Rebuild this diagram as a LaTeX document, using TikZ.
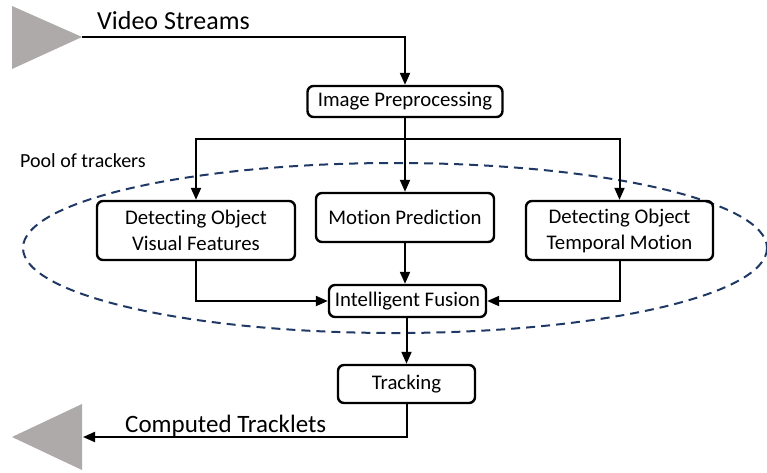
\documentclass[tikz,border=0pt]{standalone}
\usepackage{fontspec}
\setmainfont{Carlito}[Ligatures=NoCommon]
\usetikzlibrary{arrows.meta}
\definecolor{tipgray}{RGB}{174,170,170}
\definecolor{poolblue}{RGB}{31,56,100}
\begin{document}
\begin{tikzpicture}[x=1pt,y=-1pt,
  box/.style={draw,line width=2.4pt,rounded corners=6pt,inner sep=0pt,
    align=center,font=\fontsize{20.8}{26}\selectfont},
  arr/.style={line width=2pt,-{Triangle[length=12pt,width=10pt]}},
  link/.style={line width=2pt},
  lbl/.style={inner sep=0pt,anchor=base west}]
\useasboundingbox (0,0) rectangle (767,472);

% pool of trackers
\draw[poolblue,line width=2pt,dash pattern=on 9pt off 6pt]
  (395,248) ellipse [x radius=372,y radius=85];
\node[lbl,font=\fontsize{20}{24}\selectfont] (pool) at (20,167) {Pool of trackers};

% input and output markers
\fill[tipgray] (12,6) -- (82,37) -- (12,69) -- cycle;
\coordinate (vin) at (82,37);
\fill[tipgray] (82,404) -- (12,437) -- (82,470) -- cycle;
\coordinate (vout) at (83,437);
\node[lbl,font=\fontsize{26}{30}\selectfont] (vs) at (97,29) {Video Streams};
\node[lbl,font=\fontsize{25}{30}\selectfont] (ct) at (125,432) {Computed Tracklets};

% processing boxes
\node[box,minimum width=195pt,minimum height=31pt] (img) at (405,101.5) {Image Preprocessing};
\node[box,minimum width=198pt,minimum height=59pt] (vis) at (196,230.5) {Detecting Object\\Visual Features};
\node[box,minimum width=178pt,minimum height=49pt] (mot) at (405,217.5) {Motion Prediction};
\node[box,minimum width=187pt,minimum height=59pt] (tem) at (619.5,230.5) {Detecting Object\\Temporal Motion};
\node[box,minimum width=157pt,minimum height=32pt] (fus) at (407.5,301) {Intelligent Fusion};
\node[box,minimum width=137pt,minimum height=38pt] (trk) at (406.5,384) {Tracking};
\coordinate (split) at (405,139);

% connectors
\draw[arr] (vin) -| (img.north);
\draw[link] (img.south) -- (split);
\draw[arr] (split) -| (vis.north);
\draw[arr] (split) -| (tem.north);
\draw[arr] (split) -- (mot.north);
\draw[arr] (vis.south) |- (fus.west);
\draw[arr] (tem.south) |- (fus.east);
\draw[arr] (mot.south) -- (mot.south |- fus.north);
\draw[arr] (fus.south -| trk.north) -- (trk.north);
\draw[arr] (trk.south) |- (vout);
\end{tikzpicture}
\end{document}
